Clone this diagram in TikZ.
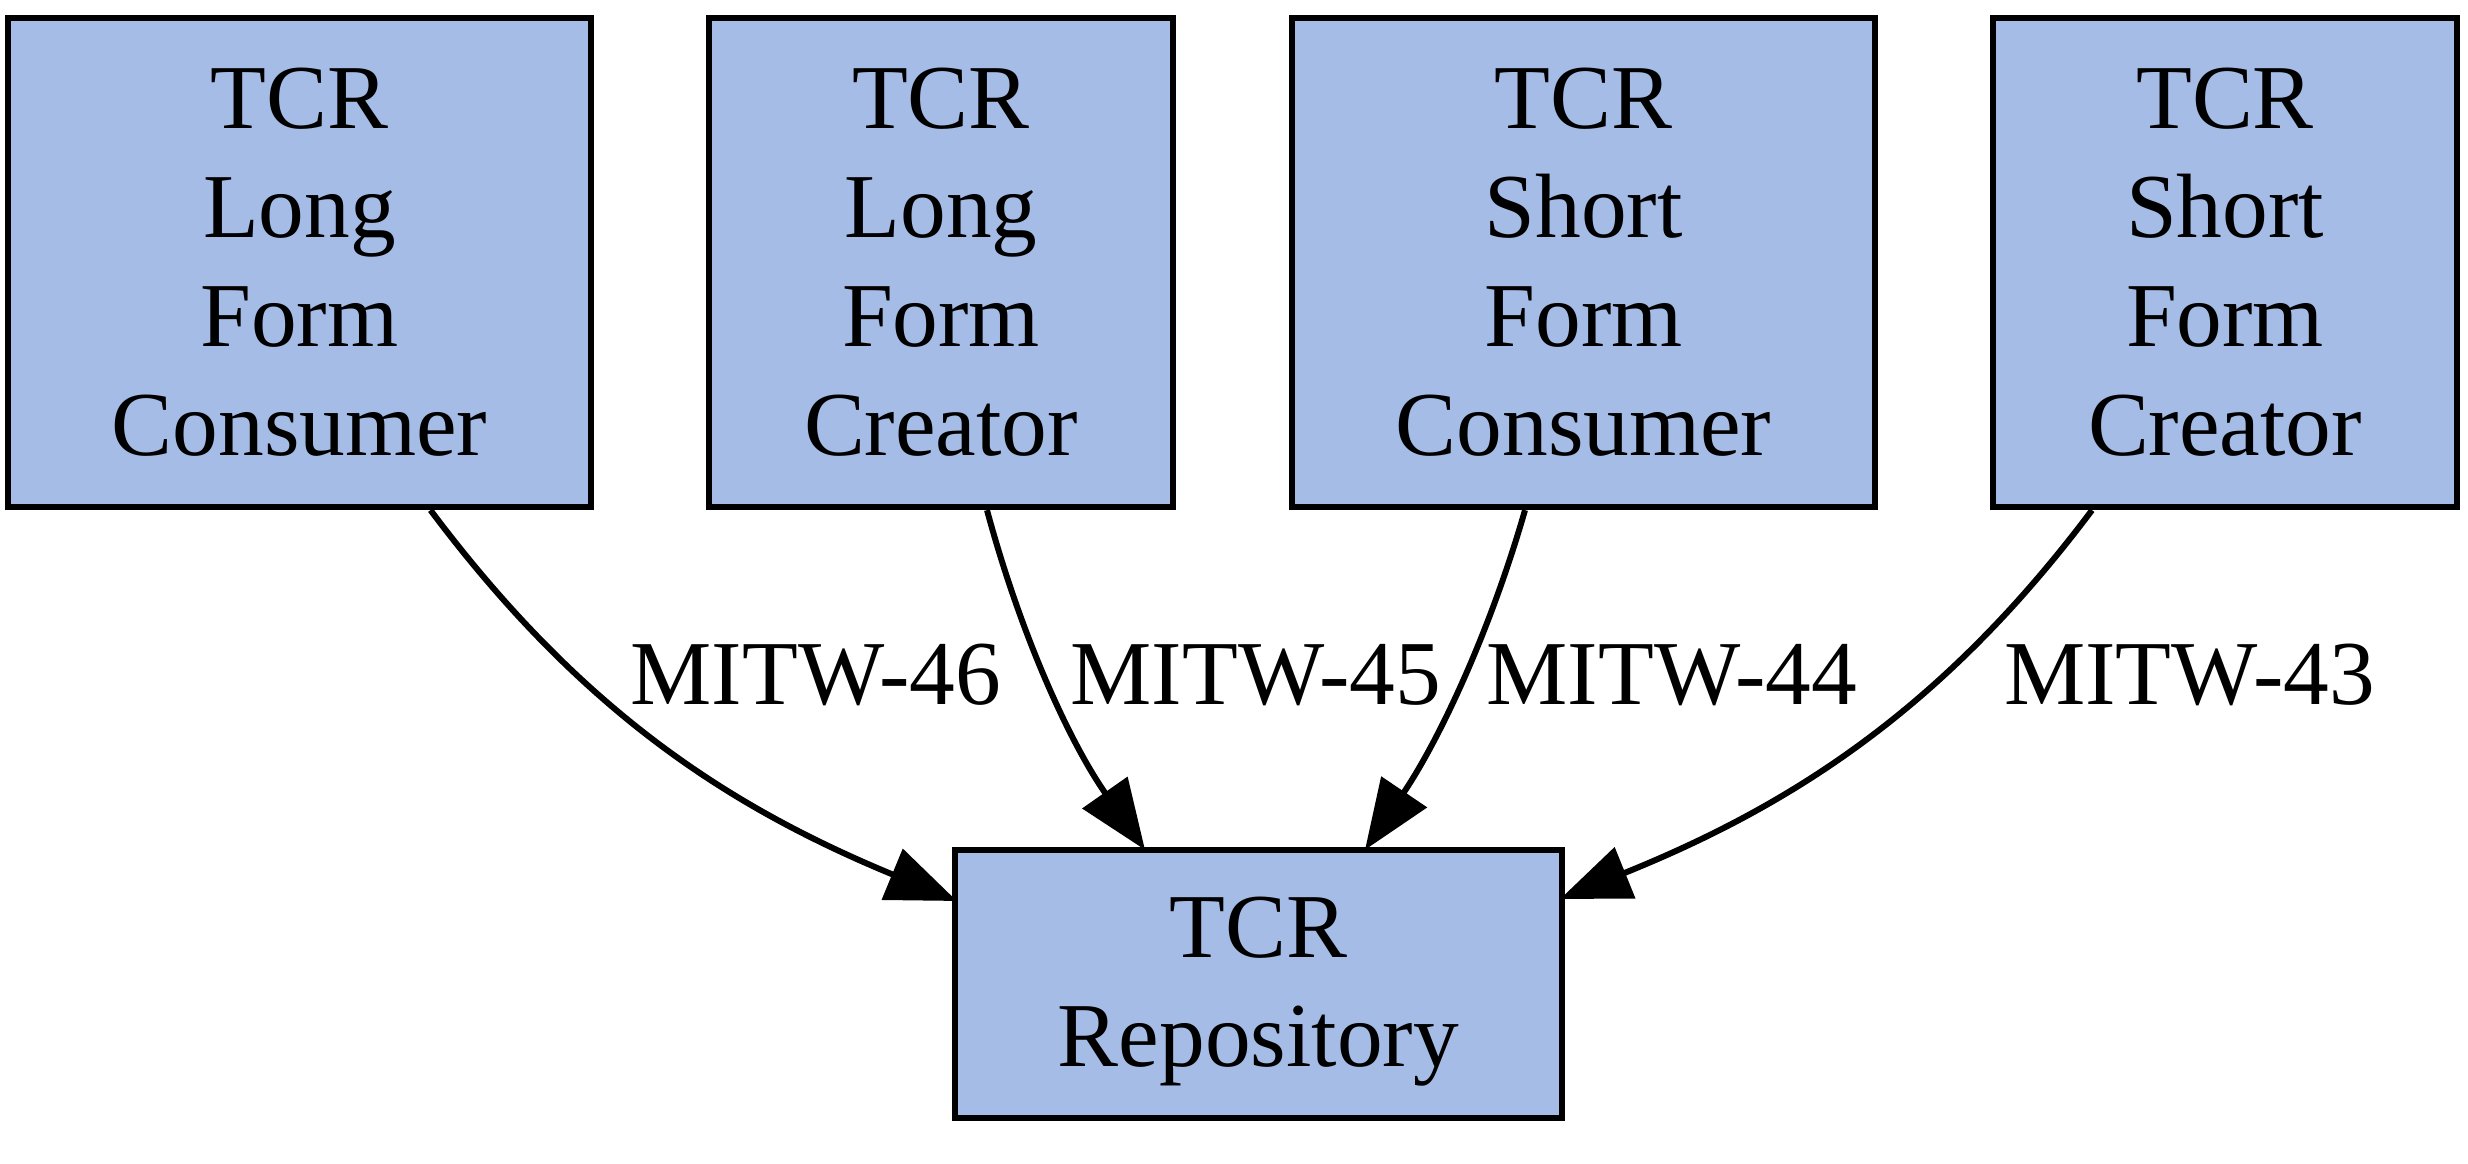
\documentclass[tikz,border=0pt]{standalone}
\usepackage{fontspec}
\setmainfont{Liberation Serif}
\usetikzlibrary{arrows.meta}
\definecolor{boxfill}{RGB}{165,188,230}
\begin{document}
\begin{tikzpicture}[
  box/.style={draw=black, fill=boxfill, line width=1.8pt, inner sep=0pt,
    align=center, font=\fontsize{26}{31}\selectfont, minimum height=4.89cm},
  edge/.style={draw=black, line width=1.7pt, -{Triangle[length=0.7cm,width=0.54cm]}},
  lbl/.style={anchor=base, inner sep=0pt, font=\fontsize{26}{31}\selectfont}
]
\useasboundingbox[fill=white] (0,0) rectangle (24.68,-11.64);
\node[box, minimum width=5.83cm] (n1) at (2.995,-2.625) {TCR\\Long\\Form\\Consumer};
\node[box, minimum width=4.64cm] (n2) at (9.41,-2.625) {TCR\\Long\\Form\\Creator};
\node[box, minimum width=5.83cm] (n3) at (15.835,-2.625) {TCR\\Short\\Form\\Consumer};
\node[box, minimum width=4.64cm] (n4) at (22.25,-2.625) {TCR\\Short\\Form\\Creator};
\node[box, minimum width=6.07cm, minimum height=2.68cm] (bot) at (12.585,-9.84) {\rule{0pt}{0.76cm}TCR\\Repository};

\draw[edge] ([xshift=1.31cm]n1.south) .. controls +(1.5,-2.0) and +(-2.3,0.95) .. ([xshift=0.05cm,yshift=0.83cm]bot.west);
\draw[edge] ([xshift=0.46cm]n2.south) .. controls +(0.34,-1.26) and +(-0.75,1.07) .. ([xshift=-1.135cm,yshift=-0.03cm]bot.north);
\draw[edge] ([xshift=-0.585cm]n3.south) .. controls +(-0.36,-1.25) and +(0.73,1.08) .. ([xshift=1.065cm,yshift=-0.03cm]bot.north);
\draw[edge] ([xshift=-1.33cm]n4.south) .. controls +(-1.5,-2.0) and +(2.3,0.93) .. ([xshift=-0.05cm,yshift=0.85cm]bot.east);

\node[lbl] (l46) at (8.16,-7.05) {MITW-46};
\node[lbl] (l45) at (12.56,-7.05) {MITW-45};
\node[lbl] (l44) at (16.72,-7.05) {MITW-44};
\node[lbl] (l43) at (21.895,-7.05) {MITW-43};
\end{tikzpicture}
\end{document}
